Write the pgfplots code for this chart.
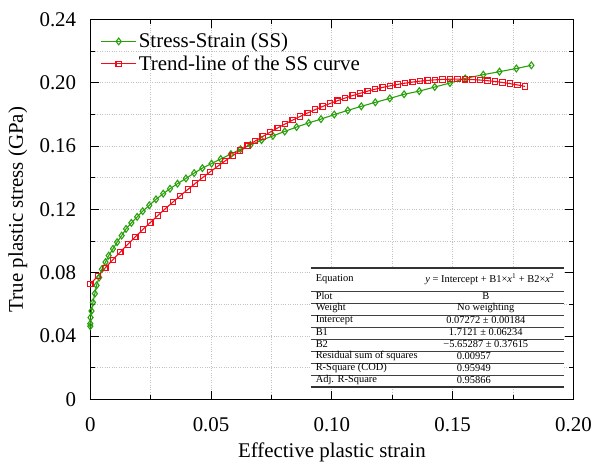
\documentclass[border=0pt]{standalone}
\usepackage{fontspec}
\setmainfont{Liberation Serif}
\usepackage{pgfplots}
\pgfplotsset{compat=1.18}
\definecolor{ssgreen}{RGB}{40,160,10}
\definecolor{trred}{RGB}{245,10,25}
\definecolor{gridgray}{RGB}{195,195,195}
\begin{document}
\begin{tikzpicture}
\path (-90.7bp,-63.9bp) rectangle (504.3bp,401.1bp);
\begin{axis}[
  scale only axis, width=485.3bp, height=381.4bp,
  xmin=0, xmax=0.2, ymin=0, ymax=0.24,
  xtick={0,0.05,0.1,0.15,0.2}, xticklabels={0,0.05,0.10,0.15,0.20},
  ytick={0,0.04,0.08,0.12,0.16,0.2,0.24}, yticklabels={0,0.04,0.08,0.12,0.16,0.20,0.24},
  minor x tick num=1, minor y tick num=1,
  grid=both,
  major grid style={gridgray, dotted, line width=0.8bp},
  minor grid style={gridgray, dotted, line width=0.8bp},
  tick align=inside, tick pos=both,
  major tick length=8.7bp, minor tick length=4.5bp,
  every tick/.style={black, line width=1bp},
  axis line style={line width=1.3bp, black},
  tick label style={font=\fontsize{21bp}{25bp}\selectfont},
  xticklabel style={yshift=-15bp},
  yticklabel style={xshift=-10.7bp},
  xlabel={Effective plastic strain},
  ylabel={True plastic stress (GPa)},
  every axis x label/.style={at={(axis description cs:0.5,0)}, anchor=center, yshift=-53.5bp, font=\fontsize{21bp}{25bp}\selectfont},
  every axis y label/.style={at={(axis description cs:0,0.5)}, anchor=center, xshift=-72.7bp, rotate=90, font=\fontsize{21bp}{25bp}\selectfont},
  legend style={draw=none, fill=none, at={(axis description cs:0,1)}, anchor=north west,
    xshift=10.3bp, yshift=-11.5bp, inner sep=0pt, row sep=2bp,
    font=\fontsize{21bp}{25bp}\selectfont, nodes={inner sep=2.2bp}},
  legend cell align=left,
  legend image code/.code={\draw[mark repeat=2,mark phase=2,#1] plot coordinates {(0bp,0bp) (17.5bp,0bp) (35bp,0bp)};},
]
\addplot[color=ssgreen, line width=1.1bp, mark=diamond, mark size=3.4bp,
  mark options={solid, line width=1.1bp, fill=white}] coordinates {
(0.0000,0.0462) (0.0000,0.0478) (0.0001,0.0517) (0.0005,0.0558) (0.0011,0.0612)
(0.0019,0.0668) (0.0026,0.0720) (0.0037,0.0770) (0.0048,0.0822) (0.0063,0.0867)
(0.0076,0.0908) (0.0094,0.0951) (0.0111,0.0993) (0.0130,0.1035) (0.0148,0.1077)
(0.0170,0.1115) (0.0194,0.1153) (0.0217,0.1189) (0.0244,0.1226) (0.0272,0.1264)
(0.0302,0.1300) (0.0330,0.1331) (0.0361,0.1363) (0.0396,0.1396) (0.0430,0.1430)
(0.0464,0.1461) (0.0502,0.1490) (0.0540,0.1519) (0.0582,0.1550) (0.0622,0.1581)
(0.0663,0.1608) (0.0709,0.1638) (0.0756,0.1665) (0.0805,0.1693) (0.0854,0.1721)
(0.0904,0.1747) (0.0955,0.1771) (0.1010,0.1800) (0.1066,0.1826) (0.1122,0.1852)
(0.1180,0.1877) (0.1240,0.1902) (0.1299,0.1928) (0.1362,0.1948) (0.1426,0.1974)
(0.1489,0.1999) (0.1552,0.2028) (0.1627,0.2052) (0.1694,0.2071) (0.1764,0.2091)
(0.1826,0.2111)
};
\addlegendentry{Stress-Strain (SS)}
\addplot[color=trred, line width=1.1bp, mark=square, mark size=2.7bp,
  mark options={solid, line width=1.1bp, fill=white}] coordinates {
(0.000000,0.07272) (0.003103,0.07798) (0.006207,0.08313) (0.009310,0.08817)
(0.012414,0.09310) (0.015517,0.09793) (0.018621,0.10264) (0.021724,0.10725)
(0.024828,0.11176) (0.027931,0.11613) (0.031034,0.12041) (0.034138,0.12458)
(0.037241,0.12864) (0.040345,0.13259) (0.043448,0.13644) (0.046552,0.14017)
(0.049655,0.14380) (0.052759,0.14731) (0.055862,0.15072) (0.058966,0.15402)
(0.062069,0.15721) (0.065172,0.16029) (0.068276,0.16326) (0.071379,0.16613)
(0.074483,0.16888) (0.077586,0.17153) (0.080690,0.17406) (0.083793,0.17649)
(0.086897,0.17881) (0.090000,0.18102) (0.093103,0.18312) (0.096207,0.18511)
(0.099310,0.18700) (0.102414,0.18877) (0.105517,0.19044) (0.108621,0.19199)
(0.111724,0.19344) (0.114828,0.19478) (0.117931,0.19601) (0.121034,0.19713)
(0.124138,0.19815) (0.127241,0.19905) (0.130345,0.19984) (0.133448,0.20053)
(0.136552,0.20111) (0.139655,0.20157) (0.142759,0.20193) (0.145862,0.20218)
(0.148966,0.20232) (0.152069,0.20235) (0.155172,0.20228) (0.158276,0.20209)
(0.161379,0.20180) (0.164483,0.20139) (0.167586,0.20088) (0.170690,0.20026)
(0.173793,0.19953) (0.176897,0.19869) (0.180000,0.19775)
};
\addlegendentry{Trend-line of the SS curve}
\end{axis}
\begin{scope}[font=\fontsize{10.5bp}{12bp}\selectfont]
\fill[white] (221.3bp,12.1bp) rectangle (476.3bp,131.6bp);
\foreach \yy in {108.1,96.1,84.1,72.1,60.1,48.1,36.1,24.1}
  \draw[line width=0.8bp, black!75] (221.3bp,\yy bp) -- (476.3bp,\yy bp);
\draw[line width=1.8bp, black!80] (221.3bp,131.6bp) -- (476.3bp,131.6bp);
\draw[line width=1.8bp, black!80] (221.3bp,12.1bp) -- (476.3bp,12.1bp);
\node[anchor=west, inner sep=0pt] at (226.3bp,120.5bp) {Equation};
\node[inner sep=0pt] at (401.3bp,120.5bp) {\textit{y} = Intercept + B1×\textit{x}\textsuperscript{1} + B2×\textit{x}\textsuperscript{2}};
\node[anchor=west, inner sep=0pt] at (226.3bp,103.4bp) {Plot};
\node[anchor=west, inner sep=0pt] at (226.3bp,91.4bp) {Weight};
\node[anchor=west, inner sep=0pt] at (226.3bp,79.4bp) {Intercept};
\node[anchor=west, inner sep=0pt] at (226.3bp,67.4bp) {B1};
\node[anchor=west, inner sep=0pt] at (226.3bp,55.4bp) {B2};
\node[anchor=west, inner sep=0pt] at (226.3bp,43.4bp) {Residual sum of squares};
\node[anchor=west, inner sep=0pt] at (226.3bp,31.4bp) {R-Square (COD)};
\node[anchor=west, inner sep=0pt] at (226.3bp,19.4bp) {Adj. R-Square};
\node[inner sep=0pt] at (397.3bp,103.4bp) {B};
\node[inner sep=0pt] at (397.3bp,91.4bp) {No weighting};
\node[inner sep=0pt] at (397.3bp,79.4bp) {0.07272 ± 0.00184};
\node[inner sep=0pt] at (397.3bp,67.4bp) {1.7121 ± 0.06234};
\node[inner sep=0pt] at (397.3bp,55.4bp) {−5.65287 ± 0.37615};
\node[inner sep=0pt] at (385.3bp,43.4bp) {0.00957};
\node[inner sep=0pt] at (385.3bp,31.4bp) {0.95949};
\node[inner sep=0pt] at (385.3bp,19.4bp) {0.95866};
\end{scope}
\end{tikzpicture}
\end{document}
